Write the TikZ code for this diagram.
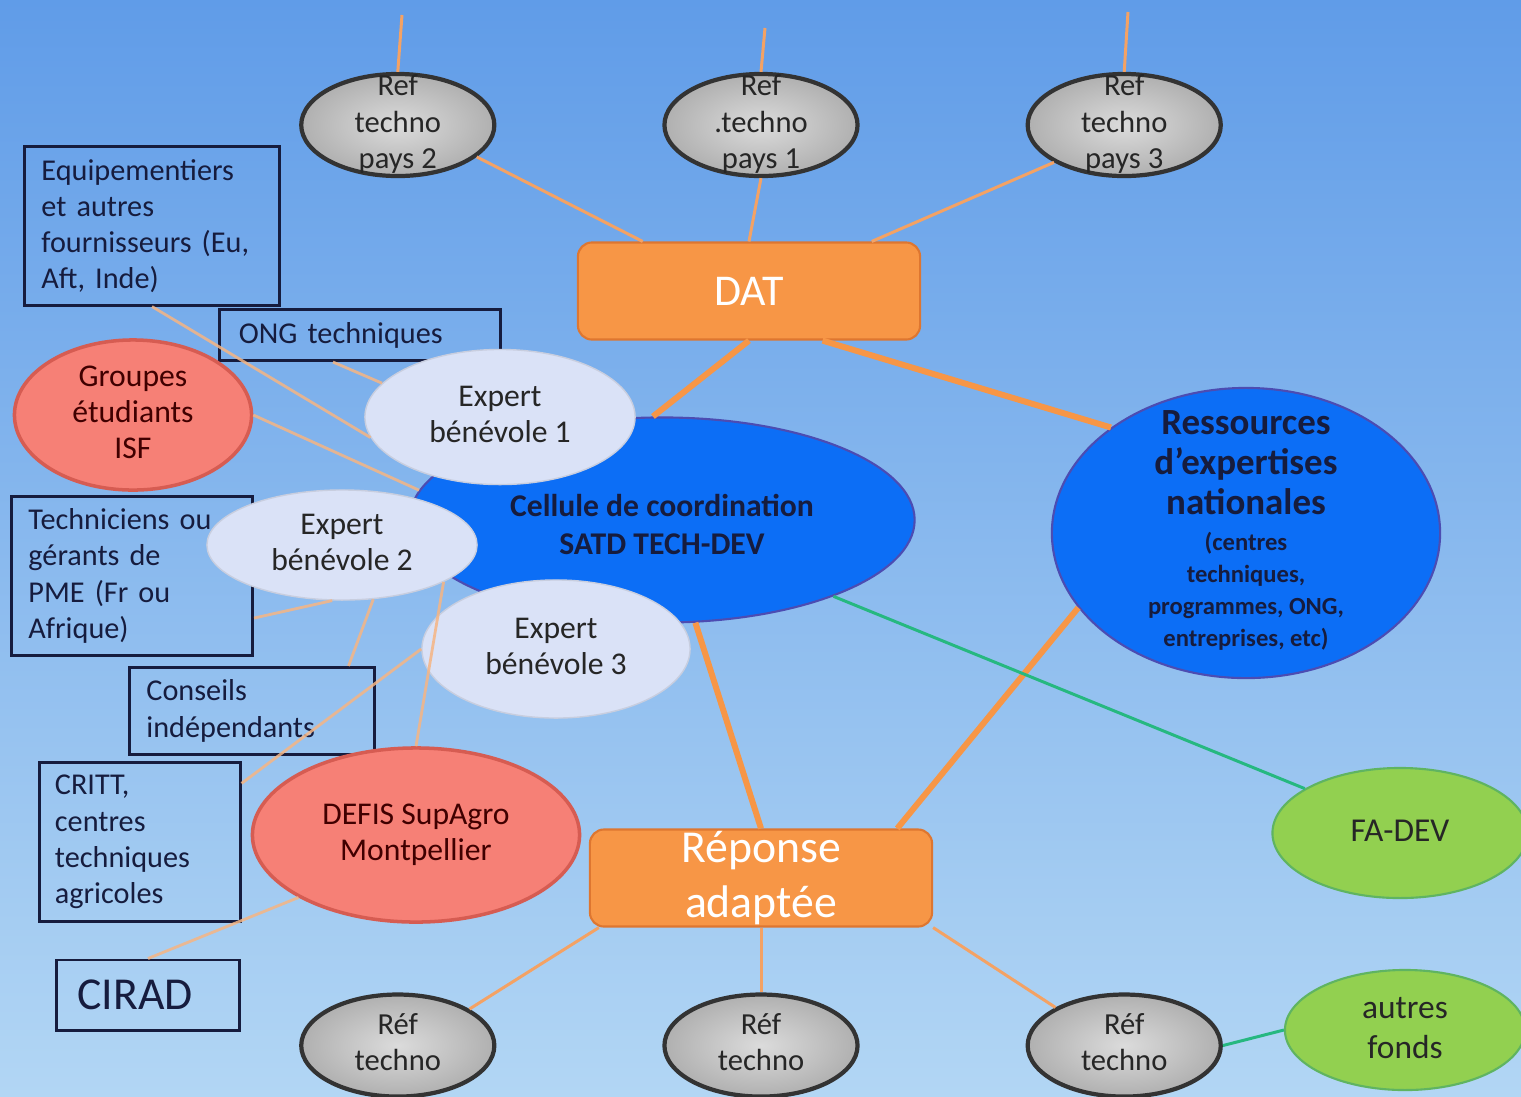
\documentclass[tikz,border=0pt]{standalone}
\usepackage{fontspec}
\setmainfont{Carlito}
\usetikzlibrary{positioning, shapes.geometric}

\definecolor{skytop}{RGB}{96,156,232}
\definecolor{skymid}{RGB}{138,186,234}
\definecolor{skybot}{RGB}{178,214,244}
\definecolor{datorange}{RGB}{247,150,70}
\definecolor{datborder}{RGB}{222,118,48}
\definecolor{linkorange}{RGB}{244,162,100}
\definecolor{navy}{RGB}{22,28,62}
\definecolor{salmon}{RGB}{246,128,118}
\definecolor{salmonline}{RGB}{214,92,82}
\definecolor{lavender}{RGB}{218,226,247}
\definecolor{satdblue}{RGB}{12,110,246}
\definecolor{fundgreen}{RGB}{146,208,80}
\definecolor{linkgreen}{RGB}{38,184,128}

% text set inside an ellipse without making it grow
\newcommand{\inside}[2][.25em]{\smash{\raisebox{-#1}{\begin{tabular}{@{}c@{}}#2\end{tabular}}}}
\newcommand{\resnote}{\fontsize{7}{8}\selectfont}

\tikzset{
	refnode/.style={
		ellipse,
		draw=black!80,
		line width=1.2pt,
		inner color=gray!28,
		outer color=gray!62,
		minimum width=1.93cm,
		minimum height=1.02cm,
		inner sep=0pt,
		font=\fontsize{8.7}{10.4}\selectfont,
		text=black!85,
	},
	action/.style={
		rectangle,
		rounded corners=4pt,
		fill=datorange,
		draw=datborder,
		line width=0.6pt,
		text=white,
		minimum width=3.42cm,
		minimum height=0.97cm,
		align=center,
		inner sep=0pt,
	},
	infobox/.style={
		rectangle,
		draw=navy,
		line width=0.85pt,
		align=left,
		inner xsep=0.17cm,
		inner ysep=0pt,
		font=\fontsize{8.6}{10.3}\selectfont,
		text=navy,
	},
	expert/.style={
		ellipse,
		fill=lavender,
		draw=lavender!80!gray,
		line width=0.4pt,
		inner sep=0pt,
		font=\fontsize{9}{10.3}\selectfont,
		text=black!85,
	},
	school/.style={
		ellipse,
		fill=salmon,
		draw=salmonline,
		line width=1pt,
		inner sep=0pt,
		font=\fontsize{9}{10.3}\selectfont,
		text=red!25!black,
	},
	hub/.style={
		ellipse,
		fill=satdblue,
		draw=gray!60!blue,
		line width=0.6pt,
		inner sep=0pt,
		text=navy,
	},
	fund/.style={
		ellipse,
		fill=fundgreen,
		draw=teal!35!fundgreen,
		line width=0.6pt,
		inner sep=0pt,
		font=\fontsize{9.5}{11.4}\selectfont,
		text=black!85,
	},
	link/.style={draw=linkorange, line width=0.85pt},
	thicklink/.style={draw=datorange, line width=1.7pt},
	faintlink/.style={draw=linkorange!80!white, line width=0.8pt, opacity=0.85},
	greenlink/.style={draw=linkgreen, line width=0.85pt},
}

\begin{document}
\begin{tikzpicture}[x=0.01cm, y=-0.01cm, node distance=3.63cm]
	% Background
	\useasboundingbox (0,0) rectangle (1521,1096);
	\clip (0,0) rectangle (1521,1096);
	\shade[top color=skytop, middle color=skymid, bottom color=skybot] (0,0) rectangle (1521,1096);

	% Place nodes
	\node[refnode] (ref1) at (761,125) {\inside{Ref\\.techno\\pays 1}};
	\node[refnode, left of = ref1] (ref2) {\inside{Ref\\techno\\pays 2}};
	\node[refnode, right of = ref1] (ref3) {\inside{Ref\\techno\\pays 3}};
	\coordinate (up1) at (765,28);
	\coordinate (up2) at (402,15);
	\coordinate (up3) at (1128,12);

	\node[action, font=\fontsize{12.5}{15}\selectfont] (dat) at (749,291) {DAT};

	\node[infobox, minimum width=2.55cm, minimum height=1.58cm, text width=2.21cm] (equip) at (152,226)
		{Equipementiers\\ et autres\\ fournisseurs~(Eu,\\ Aft,~Inde)};
	\node[infobox, minimum width=2.8cm, minimum height=0.51cm, text width=2.42cm, inner xsep=0.19cm] (ong) at (360,335)
		{ONG~techniques};
	\node[infobox, minimum width=2.41cm, minimum height=1.58cm, text width=2.07cm] (tech) at (132,576)
		{Techniciens~ou\\ gérants de\\ PME (Fr~ou\\ Afrique)};
	\node[infobox, minimum width=2.45cm, minimum height=0.87cm, text width=2.11cm] (cons) at (252,711)
		{Conseils\\ indépendants};
	\node[infobox, minimum width=2.0cm, minimum height=1.59cm, text width=1.7cm, inner xsep=0.15cm] (critt) at (140,842)
		{CRITT,\\ centres\\ techniques\\ agricoles};
	\node[infobox, minimum width=1.83cm, minimum height=0.7cm, text width=1.41cm, inner xsep=0.21cm,
		font=\fontsize{13}{15}\selectfont] (cirad) at (148,995) {CIRAD};

	\node[school, minimum width=2.37cm, minimum height=1.5cm] (isf) at (133,415)
		{\inside{Groupes\\étudiants\\ISF}};
	\node[school, minimum width=3.27cm, minimum height=1.74cm] (defis) at (416,835)
		{\inside{DEFIS SupAgro\\Montpellier}};

	\node[hub, minimum width=5.05cm, minimum height=2.05cm, font=\fontsize{9}{10.6}\selectfont\bfseries] (cellule) at (662,520)
		{\inside[.5em]{Cellule de coordination\\SATD TECH-DEV}};
	\node[expert, minimum width=2.7cm, minimum height=1.35cm] (exp1) at (500,417) {\inside{Expert\\bénévole 1}};
	\node[expert, minimum width=2.7cm, minimum height=1.1cm] (exp2) at (342,545) {\inside{Expert\\bénévole 2}};
	\node[expert, minimum width=2.68cm, minimum height=1.38cm] (exp3) at (556,649) {\inside{Expert\\bénévole 3}};

	\node[hub, minimum width=3.88cm, minimum height=2.9cm, font=\fontsize{10.5}{11.4}\selectfont\bfseries] (res) at (1246,533)
		{\inside{Ressources\\d'expertises\\nationales\\[-1.2pt] \resnote (centres\\[-2.3pt] \resnote techniques,\\[-2.3pt] \resnote programmes, ONG,\\[-2.3pt] \resnote entreprises, etc)}};

	\node[action, font=\fontsize{13}{15.6}\selectfont] (resp) at (761,878) {Réponse\\ adaptée};

	\node[fund, minimum width=2.55cm, minimum height=1.3cm] (fadev) at (1400,833) {\inside{FA-DEV}};
	\node[fund, minimum width=2.4cm, minimum height=1.2cm] (autres) at (1405,1030) {\inside{autres\\fonds}};

	\node[refnode, below of = ref1, node distance=9.2cm] (rb2) {\inside{Réf\\techno}};
	\node[refnode, left of = rb2] (rb1) {\inside{Réf\\techno}};
	\node[refnode, right of = rb2] (rb3) {\inside{Réf\\techno}};

	% Links around DAT
	\draw[link] (up1) -- (ref1.north);
	\draw[link] (up2) -- (ref2.north);
	\draw[link] (up3) -- (ref3.north);
	\draw[link] (dat.155) -- (ref2.-22);
	\draw[link] (dat.north) -- (ref1.south);
	\draw[link] (dat.22) -- (ref3.208);
	\draw[thicklink] (dat.south) -- (cellule.95);
	\draw[thicklink] (dat.-34) -- (res.142);

	% Links around the answer
	\draw[thicklink] (resp.north) -- (cellule.-72);
	\draw[thicklink] (resp.20) -- (res.204);
	\draw[link] (resp.197) -- (rb1.27);
	\draw[link] (resp.south) -- (rb2.north);
	\draw[link] (resp.south east) -- (rb3.151);

	% Partners on the left
	\draw[faintlink] (equip.south) -- (exp1.189);
	\draw[faintlink] (ong.-135) -- (exp1.164);
	\draw[faintlink] (isf.east) -- (cellule.173);
	\draw[faintlink] (tech.-19) -- (exp2.-100);
	\draw[faintlink] (cons.25) -- (exp2.-60);
	\draw[faintlink] (defis.north) -- (exp2.-20);
	\draw[faintlink] (critt.30) -- (exp3.west);
	\draw[faintlink] (cirad.north) -- (defis.208);

	% Funding
	\draw[greenlink] (cellule.-24) -- (fadev.155);
	\draw[greenlink] (rb3.east) -- (autres.west);

\end{tikzpicture}
\end{document}
